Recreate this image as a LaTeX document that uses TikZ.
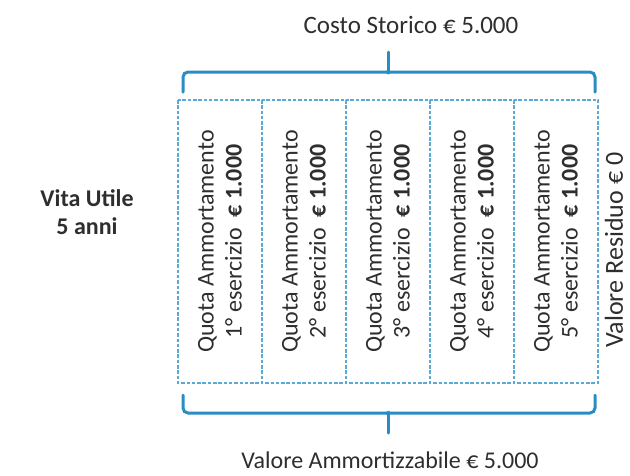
\documentclass[tikz,border=0pt]{standalone}
\usepackage{fontspec}
\setmainfont{Carlito}
\definecolor{brc}{HTML}{2A8CC4}
\definecolor{dsh}{HTML}{5AAAD8}
\definecolor{txt}{HTML}{2E2E2E}
\tikzset{
  lbl/.style={text=txt, font=\fontsize{24}{28}\selectfont, inner sep=0pt, align=center},
  cell/.style={lbl, rotate=90, draw=dsh, line width=1.4pt, dash pattern=on 3.5pt off 1.8pt,
     minimum width=283pt, minimum height=84pt, inner sep=0pt},
  brace/.style={draw=brc, line width=3pt, rounded corners=5pt, line cap=round}
}
\begin{document}
\begin{tikzpicture}[x=1pt,y=-1pt]
\useasboundingbox (0,0) rectangle (630,475);
\node[cell] (c1) at (220,241.5) {Quota Ammortamento\\1° esercizio\ \ \textbf{€ 1.000}};
\node[cell] (c2) at (304,241.5) {Quota Ammortamento\\2° esercizio\ \ \textbf{€ 1.000}};
\node[cell] (c3) at (388,241.5) {Quota Ammortamento\\3° esercizio\ \ \textbf{€ 1.000}};
\node[cell] (c4) at (472,241.5) {Quota Ammortamento\\4° esercizio\ \ \textbf{€ 1.000}};
\node[cell] (c5) at (556,241.5) {Quota Ammortamento\\5° esercizio\ \ \textbf{€ 1.000}};
\node[lbl, rotate=90, font=\fontsize{26}{30}\selectfont] (res) at (614,250) {Valore Residuo € 0};
\node[lbl, font=\bfseries\fontsize{24}{28}\selectfont] (vita) at (87,212) {Vita Utile\\5 anni};
\node[lbl, font=\fontsize{25}{29}\selectfont] (costo) at (411,25) {Costo Storico € 5.000};
\node[lbl] (valam) at (390,460) {Valore Ammortizzabile € 5.000};
\coordinate (tl) at (183,92);
\coordinate (tr) at (595,92);
\coordinate (tt) at (388,52);
\coordinate (bl) at (183,395);
\coordinate (br) at (595,395);
\coordinate (bt) at (388,433);
\draw[brace] (tl) -- (183,72) -- (385,72) -- (tt |- 0,72);
\draw[brace] (tr) -- (595,72) -- (391,72) -- (tt |- 0,72);
\draw[draw=brc, line width=3pt, line cap=round] (388,73) -- (tt);
\draw[brace] (bl) -- (183,413) -- (385,413) -- (bt |- 0,413);
\draw[brace] (br) -- (595,413) -- (391,413) -- (bt |- 0,413);
\draw[draw=brc, line width=3pt, line cap=round] (388,412) -- (bt);
\end{tikzpicture}
\end{document}
